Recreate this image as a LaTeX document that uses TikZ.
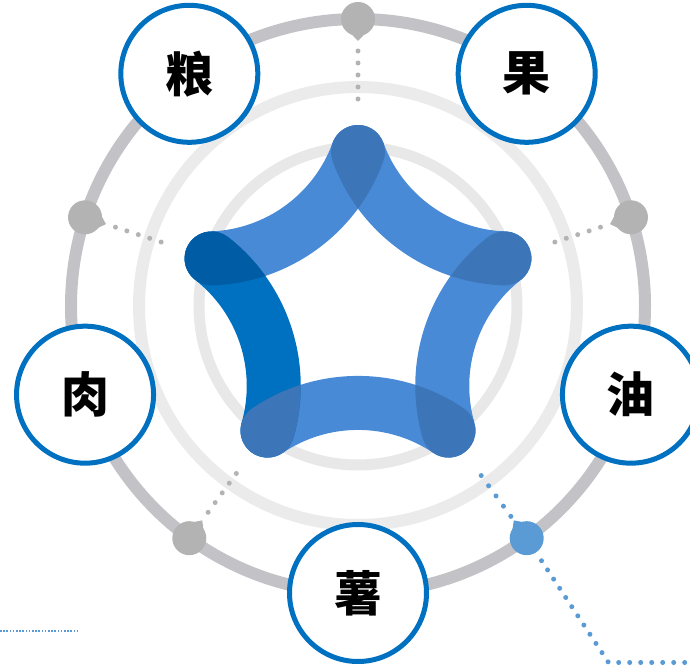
\documentclass[tikz,border=0pt]{standalone}
\usepackage{fontspec}
\newfontfamily\cjk{Noto Sans CJK SC}
\usetikzlibrary{calc}
\definecolor{ringout}{HTML}{C3C2C6}
\definecolor{ringmid}{HTML}{EBEBEB}
\definecolor{ringin}{HTML}{E8E8E8}
\definecolor{dotgray}{HTML}{B3B3B3}
\definecolor{dotblue}{HTML}{5B9BD5}
\definecolor{bandlight}{HTML}{488AD6}
\definecolor{bandover}{HTML}{3C76B8}
\definecolor{banddark}{HTML}{0070C0}
\definecolor{banddarkover}{HTML}{005DA5}
\definecolor{labelblue}{HTML}{0070C0}
\tikzset{
  lbl/.style={circle,draw=labelblue,line width=5pt,fill=white,minimum size=137pt,inner sep=0pt,
    font=\cjk\bfseries\fontsize{48}{48}\selectfont,text=black},
  gdot/.style={circle,fill=dotgray,minimum size=34pt,inner sep=0pt},
  bdot/.style={circle,fill=dotblue,minimum size=34pt,inner sep=0pt},
  gdots/.style={draw=dotgray,line width=5pt,line cap=round,dash pattern=on 0pt off 12pt},
  bdotsin/.style={draw=dotblue,line width=5pt,line cap=round,dash pattern=on 0pt off 12.6pt},
  bdotsout/.style={draw=dotblue,line width=5pt,line cap=round,dash pattern=on 0pt off 11pt},
  finedots/.style={draw=dotblue,line width=1.6pt,dash pattern=on 1.6pt off 1.6pt},
}
\def\bandpath{([shift={(126:258.79pt)}]340:188.87pt) arc[start angle=340,end angle=272,radius=188.87pt] arc[start angle=272,end angle=92,radius=27pt] arc[start angle=272,end angle=340,radius=134.87pt] arc[start angle=160,end angle=-20,radius=27pt] -- cycle}
\begin{document}
\begin{tikzpicture}
\useasboundingbox (-358pt,-362pt) rectangle (332pt,306pt);
% rings
\draw[ringout,line width=12pt] (0,0) circle[radius=287pt];
\draw[ringmid,line width=12pt] (0,0) circle[radius=219pt];
\draw[ringin,line width=11pt] (0,0) circle[radius=159pt];
% gray dots with dotted spokes
\foreach \a [count=\i] in {90,162,18,234}{
  \coordinate (gs\i) at (\a:255pt);
  \coordinate (ge\i) at (\a:206.5pt);
  \draw[gdots] (gs\i) -- (ge\i);
  \node[gdot] (gd\i) at (\a:287pt) {};
  \fill[dotgray] ($(gd\i)+(\a+180+28:16pt)$) -- ($(gd\i)+(\a+180:22pt)$) -- ($(gd\i)+(\a+180-28:16pt)$) -- cycle;
}
% blue dot
\node[bdot] (bd) at (306:287pt) {};
\fill[dotblue] ($(bd)+(126+28:16pt)$) -- ($(bd)+(126:22pt)$) -- ($(bd)+(126-28:16pt)$) -- cycle;
\coordinate (bs) at (306:260pt);
\coordinate (be) at (306:209pt);
\draw[bdotsin] (bs) -- (be);
\coordinate (corner) at (250.5pt,-356.5pt);
\coordinate (rend) at (345pt,-356.5pt);
\draw[bdotsout] ($(bd)!27pt!(corner)$) -- (corner) -- (rend);
% fine dotted line bottom left
\coordinate (fl1) at (-358pt,-324.7pt);
\coordinate (fl2) at (-279pt,-324.7pt);
\draw[finedots] (fl1) -- (fl2);
% star bands
\foreach \k in {0,2,3,4}{ \fill[bandlight,rotate=72*\k] \bandpath; }
\fill[banddark,rotate=72] \bandpath;
\foreach \a/\b in {4/0,1/2,2/3,3/4}{
  \begin{scope}
    \clip[rotate=72*\a] \bandpath;
    \fill[bandover,rotate=72*\b] \bandpath;
  \end{scope}
}
\begin{scope}
  \clip \bandpath;
  \fill[banddarkover,rotate=72] \bandpath;
\end{scope}
% labels
\node[lbl] (liang) at (126:287pt) {粮};
\node[lbl] (guo) at (54:287pt) {果};
\node[lbl] (rou) at (198:287pt) {肉};
\node[lbl] (you) at (342:287pt) {油};
\node[lbl] (shu) at (270:287pt) {薯};
\end{tikzpicture}
\end{document}
